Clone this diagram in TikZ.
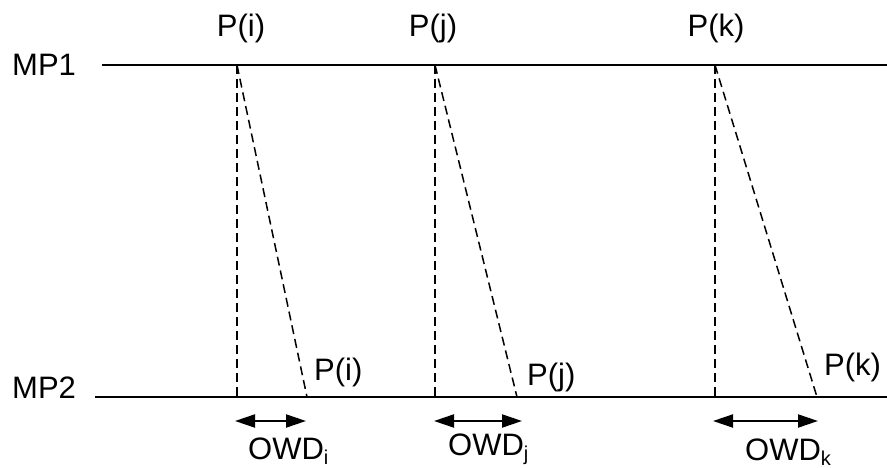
\documentclass[tikz,border=0pt]{standalone}
\usepackage{fontspec}
\setmainfont{Liberation Sans}
\usetikzlibrary{arrows.meta}
\newcommand{\owdsub}[1]{\raisebox{-5pt}{\fontsize{20}{20}\selectfont #1}}
\begin{document}
\begin{tikzpicture}[x=1pt,y=-1pt,
  lbl/.style={inner sep=0pt,font=\fontsize{31}{33}\selectfont},
  axis/.style={line width=2pt},
  pkt/.style={line width=1.5pt,dash pattern=on 9pt off 5pt},
  owd/.style={line width=2pt,{Triangle[length=20pt,width=13pt]}-{Triangle[length=20pt,width=13pt]}}]
\useasboundingbox (0,0) rectangle (887,468);
% time lines
\coordinate (a1) at (102,65); \coordinate (a2) at (887,65);
\coordinate (b1) at (95,397); \coordinate (b2) at (887,397);
\draw[axis] (a1) -- (a2);
\draw[axis] (b1) -- (b2);
\node[lbl,anchor=base west] (mp1) at (12,76) {MP1};
\node[lbl,anchor=base west] (mp2) at (12,398) {MP2};
% packet points
\coordinate (ti) at (237,65); \coordinate (tj) at (435,65); \coordinate (tk) at (715,65);
\coordinate (vi) at (237,397); \coordinate (vj) at (435,397); \coordinate (vk) at (715,397);
\coordinate (si) at (307,397); \coordinate (sj) at (517,397); \coordinate (sk) at (817,397);
\draw[pkt] (ti) -- (vi);
\draw[pkt] (ti) -- (si);
\draw[pkt] (tj) -- (vj);
\draw[pkt] (tj) -- (sj);
\draw[pkt] (tk) -- (vk);
\draw[pkt] (tk) -- (sk);
% labels
\node[lbl,anchor=base] (pi) at (241,37) {P(i)};
\node[lbl,anchor=base] (pj) at (433,37) {P(j)};
\node[lbl,anchor=base] (pk) at (716,37) {P(k)};
\node[lbl,anchor=base west] (qi) at (314,380) {P(i)};
\node[lbl,anchor=base west] (qj) at (527,385) {P(j)};
\node[lbl,anchor=base west] (qk) at (824,375) {P(k)};
% OWD arrows
\coordinate (oi1) at (235,421); \coordinate (oi2) at (306,421);
\coordinate (oj1) at (434,421); \coordinate (oj2) at (522,421);
\coordinate (ok1) at (713,421); \coordinate (ok2) at (818,421);
\draw[owd] (oi1) -- (oi2);
\draw[owd] (oj1) -- (oj2);
\draw[owd] (ok1) -- (ok2);
\node[lbl,anchor=base west] (wi) at (248,459) {OWD\owdsub{i}};
\node[lbl,anchor=base west] (wj) at (448,455) {OWD\owdsub{j}};
\node[lbl,anchor=base west] (wk) at (745,460) {OWD\owdsub{k}};
\end{tikzpicture}
\end{document}
